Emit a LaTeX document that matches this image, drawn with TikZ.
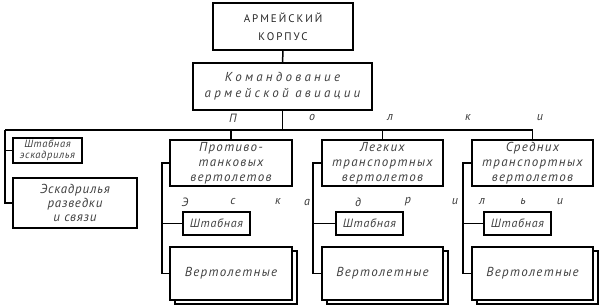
\documentclass[tikz,border=0pt]{standalone}
\usepackage{fontspec}
\setmainfont{PT Sans}
\newfontfamily\capsfont{PT Sans}[LetterSpace=18]
\newfontfamily\boxfont{PT Sans}[LetterSpace=10]
\newfontfamily\widefont{PT Sans}[LetterSpace=25]
\newfontfamily\hqfont{PT Sans}[LetterSpace=6]

\tikzset{
  box/.style={draw, line width=1.3pt, inner sep=0pt, align=center, fill=white,
    text=black!75, font=\boxfont\itshape\fontsize{13}{15}\selectfont},
  small box/.style={box, font=\hqfont\itshape\fontsize{12}{12}\selectfont},
  tag/.style={inner sep=0pt, text=black!78, font=\itshape\fontsize{12}{12}\selectfont},
  link/.style={line width=1.5pt},
}

\begin{document}
\begin{tikzpicture}[x=1pt, y=-1pt]
\useasboundingbox (0,0) rectangle (600,307);

% Корпус и командование
\node (corps) at (283,26.5) [box, minimum width=140, minimum height=47,
  font=\capsfont\fontsize{11}{18}\selectfont, text=black!85] {АРМЕЙСКИЙ\\КОРПУС};
\node (cmd) at (282.5,86.5) [box, minimum width=179, minimum height=47,
  font=\widefont\itshape\fontsize{13}{16}\selectfont] {Командование\\армейской авиации};

% Отдельные эскадрильи
\node (hqsq) at (47.5,150.5) [small box, minimum width=69, minimum height=25,
  font=\hqfont\itshape\fontsize{10.5}{11}\selectfont] {Штабная\\эскадрилья};
\node (recon) at (75,203) [box, minimum width=124, minimum height=50,
  font=\hqfont\itshape\fontsize{13}{14}\selectfont] {Эскадрилья\\разведки\\и связи};

% Полки
\node (atk) at (231,163) [box, minimum width=122, minimum height=46] {Противо-\\танковых\\вертолетов};
\node (ltr) at (382.5,163) [box, minimum width=121, minimum height=46] {Легких\\транспортных\\вертолетов};
\node (mtr) at (532.5,163) [box, minimum width=121, minimum height=46] {Средних\\транспортных\\вертолетов};

% Эскадрильи полков
\node (atkhq) at (216.5,223.5) [small box, minimum width=67, minimum height=23] {Штабная};
\node (ltrhq) at (369.5,223.5) [small box, minimum width=67, minimum height=23] {Штабная};
\node (mtrhq) at (517.5,223.5) [small box, minimum width=67, minimum height=23] {Штабная};

\node (atkhelb) at (236,277.5) [box, minimum width=122, minimum height=53] {};
\node (atkhel) at (231,273.5) [box, minimum width=122, minimum height=53] {Вертолетные};
\node (ltrhelb) at (387.5,277.5) [box, minimum width=121, minimum height=53] {};
\node (ltrhel) at (382.5,273.5) [box, minimum width=121, minimum height=53] {Вертолетные};
\node (mtrhelb) at (537.5,277.5) [box, minimum width=121, minimum height=53] {};
\node (mtrhel) at (532.5,273.5) [box, minimum width=121, minimum height=53] {Вертолетные};

% Буквы надписей
\node (tP) at (233,118) [tag] {П};
\node (to) at (312,118) [tag] {о};
\node (tl) at (390,118) [tag] {л};
\node (tk) at (468,118) [tag] {к};
\node (ti) at (540,118) [tag] {и};
\node (s1) at (185,202) [tag] {Э};
\node (s2) at (233,202) [tag] {с};
\node (s3) at (278,202) [tag] {к};
\node (s4) at (307,202) [tag] {а};
\node (s5) at (358,202) [tag] {д};
\node (s6) at (408,202) [tag] {р};
\node (s7) at (455,202) [tag] {и};
\node (s8) at (482,202) [tag] {л};
\node (s9) at (523,202) [tag] {ь};
\node (s10) at (560,202) [tag] {и};

% Связи
\coordinate (trunkL) at (5,130);
\draw[link] (corps) -- (cmd);
\draw[link] (cmd) -- (cmd |- trunkL);
\draw[link] (trunkL) -- (mtr.north |- trunkL) -- (mtr.north);
\draw[link] (atk.north |- trunkL) -- (atk.north);
\draw[link] (ltr.north |- trunkL) -- (ltr.north);
\draw[link] (trunkL) |- (recon.west);
\draw[link] (trunkL |- hqsq.west) -- (hqsq.west);

\coordinate (atkbus) at (162,0);
\coordinate (ltrbus) at (313,0);
\coordinate (mtrbus) at (463,0);
\draw[link] (atk.west) -- (atk.west -| atkbus) |- (atkhel.west);
\draw[link] (atkhq.west) -- (atkhq.west -| atkbus);
\draw[link] (ltr.west) -- (ltr.west -| ltrbus) |- (ltrhel.west);
\draw[link] (ltrhq.west) -- (ltrhq.west -| ltrbus);
\draw[link] (mtr.west) -- (mtr.west -| mtrbus) |- (mtrhel.west);
\draw[link] (mtrhq.west) -- (mtrhq.west -| mtrbus);
\end{tikzpicture}
\end{document}
